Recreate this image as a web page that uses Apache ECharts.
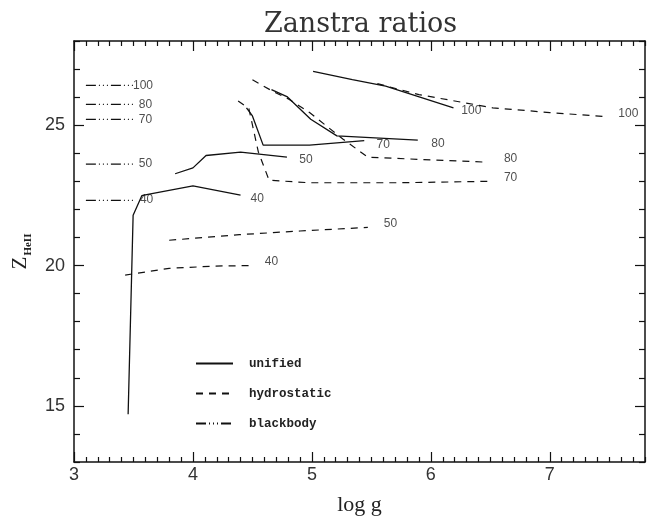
<!DOCTYPE html>
<html>
<head>
<meta charset="utf-8">
<script src="https://cdn.jsdelivr.net/npm/echarts@6/dist/echarts.min.js"></script>
<style>
html,body{margin:0;padding:0;background:#fff}
#chart{width:647px;height:521px}
</style>
</head>
<body>
<div id="chart"></div>
<script>
// curves, [log g, Z_HeII]
var unified40 = [[3.455,14.70],[3.497,21.79],[3.57,22.49],[3.61,22.53],[4.00,22.84],[4.40,22.51]];
var unified50 = [[3.85,23.27],[4.00,23.48],[4.11,23.92],[4.40,24.04],[4.79,23.86]];
var unified70 = [[4.45,25.62],[4.50,25.33],[4.59,24.29],[4.98,24.29],[5.44,24.45]];
var unified80 = [[4.66,26.27],[4.79,26.02],[4.99,25.21],[5.21,24.62],[5.89,24.47]];
var unified100 = [[5.01,26.92],[5.34,26.62],[5.62,26.39],[6.19,25.62]];

var hydro40 = [[3.43,19.66],[3.80,19.90],[4.18,19.98],[4.50,20.00]];
var hydro50 = [[3.80,20.90],[4.39,21.10],[4.90,21.23],[5.47,21.36]];
var hydro70 = [[4.38,25.86],[4.47,25.59],[4.55,24.04],[4.64,23.04],[4.98,22.95],[5.74,22.95],[6.49,23.00]];
var hydro80 = [[4.50,26.62],[4.67,26.21],[4.81,25.92],[4.98,25.45],[5.26,24.51],[5.47,23.86],[6.48,23.68]];
var hydro100 = [[5.55,26.48],[5.90,26.09],[6.52,25.62],[7.00,25.45],[7.46,25.31]];

// blackbody values are flat segments
var bbZ = [26.42,25.74,25.21,23.61,22.32];
var bbRange = [3.1,3.5];

// temperature labels next to the curves [x, y, text]
var curveLabels = [
  [3.58,26.42,'100'],[3.60,25.73,'80'],[3.60,25.21,'70'],[3.60,23.62,'50'],[3.61,22.33,'40'],
  [4.54,22.39,'40'],[4.95,23.77,'50'],[5.60,24.29,'70'],[6.06,24.33,'80'],[6.34,25.50,'100'],
  [4.66,20.12,'40'],[5.66,21.48,'50'],[6.67,23.13,'70'],[6.67,23.80,'80'],[7.66,25.42,'100']
];

var xMajor = [3,4,5,6,7];
var yMajor = [15,20,25];
var xMinor = [];
for (var i = 30; i <= 78; i++) { if (i % 10 != 0) xMinor.push(i/10); }
var yMinor = [];
for (var j = 13; j <= 28; j++) { if (j % 5 != 0) yMinor.push(j); }

var chart = echarts.init(document.getElementById('chart'));

function frameAxis(pos, ticks, len, labels, line) {
  return {
    type: 'value',
    position: pos,
    axisLine: {show: line, onZero: false, lineStyle: {color: '#111', width: 1.5}},
    axisTick: {show: true, inside: true, length: len, customValues: ticks, lineStyle: {color: '#111', width: 1.2}},
    axisLabel: {show: labels, customValues: ticks, color: '#333', fontFamily: 'Liberation Sans', fontSize: 18},
    splitLine: {show: false}
  };
}

var xAxes = [
  frameAxis('bottom', xMajor, 10, true, true),
  frameAxis('bottom', xMinor, 5, false, false),
  frameAxis('top', xMajor, 10, false, true),
  frameAxis('top', xMinor, 5, false, false)
];
var yAxes = [
  frameAxis('left', yMajor, 10, true, true),
  frameAxis('left', yMinor, 6, false, false),
  frameAxis('right', yMajor, 10, false, true),
  frameAxis('right', yMinor, 6, false, false)
];
xAxes.forEach(function (a) { a.min = 3; a.max = 7.8; });
yAxes.forEach(function (a) { a.min = 13; a.max = 28; });
xAxes[0].axisLabel.margin = 4;
xAxes[0].name = 'log g';
xAxes[0].nameLocation = 'middle';
xAxes[0].nameGap = 32;
xAxes[0].nameTextStyle = {fontFamily: 'Liberation Serif', fontSize: 22, color: '#222'};
yAxes[0].axisLabel.margin = 9;
yAxes[0].name = '{z|Z}{s|HeII}';
yAxes[0].nameLocation = 'middle';
yAxes[0].nameGap = 36;
yAxes[0].nameTextStyle = {
  rich: {
    z: {fontFamily: 'Liberation Serif', fontSize: 21, color: '#222'},
    s: {fontFamily: 'Liberation Serif', fontSize: 11, fontWeight: 'bold', color: '#222', padding: [16, 0, 0, 1]}
  }
};

var solid = {color: '#111', width: 1.3, type: 'solid'};
var dashed = {color: '#111', width: 1.2, type: [7, 6]};
var dotdash = {color: '#111', width: 1.2, type: [10, 3, 1, 3, 1, 3, 1, 3]};

var series = [];
function addCurve(name, pts, style) {
  series.push({
    name: name, type: 'line', data: pts, symbol: 'none',
    lineStyle: style, itemStyle: {color: '#111'}, silent: true, animation: false
  });
}
[unified40, unified50, unified70, unified80, unified100].forEach(function (c) { addCurve('unified', c, solid); });
[hydro40, hydro50, hydro70, hydro80, hydro100].forEach(function (c) { addCurve('hydrostatic', c, dashed); });
bbZ.forEach(function (z) { addCurve('blackbody', [[bbRange[0], z], [bbRange[1], z]], dotdash); });

series.push({
  type: 'scatter', data: curveLabels, symbolSize: 0, silent: true, animation: false,
  label: {
    show: true, position: 'inside', color: '#222', fontFamily: 'Liberation Sans', fontSize: 12,
    formatter: function (p) { return p.value[2]; }
  }
});

option = {
  backgroundColor: '#fff',
  title: {
    text: 'Zanstra ratios', left: 259, top: 6,
    textStyle: {fontFamily: 'DejaVu Serif', fontSize: 27, fontWeight: 'normal', color: '#333'}
  },
  grid: {left: 74, right: 2, top: 41, bottom: 54, containLabel: false},
  legend: {
    data: ['unified', 'hydrostatic', 'blackbody'],
    orient: 'vertical', left: 190, top: 352,
    itemWidth: 37, itemHeight: 12, itemGap: 17,
    itemStyle: {opacity: 0},
    textStyle: {fontFamily: 'Liberation Mono', fontSize: 12.5, fontWeight: 'bold', color: '#222', padding: [0, 0, 0, 11]}
  },
  xAxis: xAxes,
  yAxis: yAxes,
  series: series
};
chart.setOption(option);
</script>
</body>
</html>
